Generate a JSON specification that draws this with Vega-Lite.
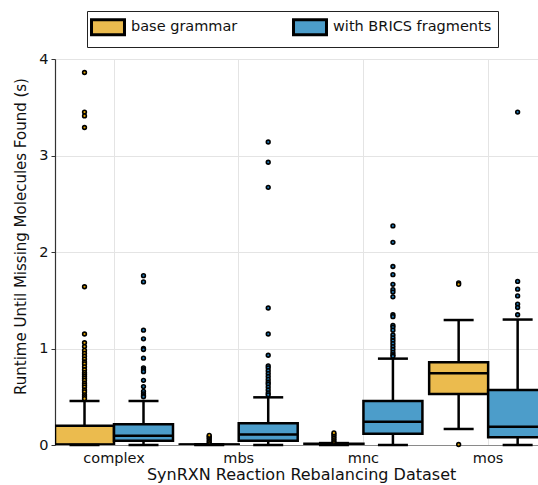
{
  "$schema": "https://vega.github.io/schema/vega-lite/v6.json",
  "width": 483,
  "height": 386,
  "autosize": {"type": "none"},
  "padding": {"left": 55, "top": 59, "right": 0, "bottom": 40},
  "background": "white",
  "config": {
    "font": "DejaVu Sans",
    "view": {"stroke": null},
    "axis": {"labelFont": "DejaVu Sans", "titleFont": "DejaVu Sans", "labelColor": "#111", "titleColor": "#111", "titleFontWeight": "normal", "gridColor": "#e4e4e4", "gridWidth": 1}
  },
  "datasets": {
    "boxes": [
      {"dataset": "complex", "series": "base grammar", "lower": 0.0, "q1": 0.0, "median": 0.004, "q3": 0.20, "upper": 0.456},
      {"dataset": "complex", "series": "with BRICS fragments", "lower": 0.0, "q1": 0.045, "median": 0.097, "q3": 0.214, "upper": 0.456},
      {"dataset": "mbs", "series": "base grammar", "lower": 0.0, "q1": 0.0, "median": 0.002, "q3": 0.004, "upper": 0.008},
      {"dataset": "mbs", "series": "with BRICS fragments", "lower": 0.0, "q1": 0.045, "median": 0.11, "q3": 0.225, "upper": 0.494},
      {"dataset": "mnc", "series": "base grammar", "lower": 0.0, "q1": 0.004, "median": 0.008, "q3": 0.012, "upper": 0.02},
      {"dataset": "mnc", "series": "with BRICS fragments", "lower": 0.0, "q1": 0.117, "median": 0.242, "q3": 0.456, "upper": 0.895},
      {"dataset": "mos", "series": "base grammar", "lower": 0.166, "q1": 0.528, "median": 0.743, "q3": 0.857, "upper": 1.295},
      {"dataset": "mos", "series": "with BRICS fragments", "lower": 0.0, "q1": 0.08, "median": 0.19, "q3": 0.57, "upper": 1.30}
    ],
    "outliers": [
      {"dataset": "complex", "series": "base grammar", "value": 3.86},
      {"dataset": "complex", "series": "base grammar", "value": 3.45},
      {"dataset": "complex", "series": "base grammar", "value": 3.41},
      {"dataset": "complex", "series": "base grammar", "value": 3.29},
      {"dataset": "complex", "series": "base grammar", "value": 1.64},
      {"dataset": "complex", "series": "base grammar", "value": 1.15},
      {"dataset": "complex", "series": "base grammar", "value": 1.06},
      {"dataset": "complex", "series": "base grammar", "value": 1.02},
      {"dataset": "complex", "series": "base grammar", "value": 0.98},
      {"dataset": "complex", "series": "base grammar", "value": 0.95},
      {"dataset": "complex", "series": "base grammar", "value": 0.92},
      {"dataset": "complex", "series": "base grammar", "value": 0.89},
      {"dataset": "complex", "series": "base grammar", "value": 0.86},
      {"dataset": "complex", "series": "base grammar", "value": 0.84},
      {"dataset": "complex", "series": "base grammar", "value": 0.81},
      {"dataset": "complex", "series": "base grammar", "value": 0.78},
      {"dataset": "complex", "series": "base grammar", "value": 0.75},
      {"dataset": "complex", "series": "base grammar", "value": 0.73},
      {"dataset": "complex", "series": "base grammar", "value": 0.71},
      {"dataset": "complex", "series": "base grammar", "value": 0.69},
      {"dataset": "complex", "series": "base grammar", "value": 0.67},
      {"dataset": "complex", "series": "base grammar", "value": 0.64},
      {"dataset": "complex", "series": "base grammar", "value": 0.62},
      {"dataset": "complex", "series": "base grammar", "value": 0.60},
      {"dataset": "complex", "series": "base grammar", "value": 0.57},
      {"dataset": "complex", "series": "base grammar", "value": 0.55},
      {"dataset": "complex", "series": "base grammar", "value": 0.52},
      {"dataset": "complex", "series": "base grammar", "value": 0.50},
      {"dataset": "complex", "series": "base grammar", "value": 0.48},
      {"dataset": "complex", "series": "with BRICS fragments", "value": 1.755},
      {"dataset": "complex", "series": "with BRICS fragments", "value": 1.69},
      {"dataset": "complex", "series": "with BRICS fragments", "value": 1.19},
      {"dataset": "complex", "series": "with BRICS fragments", "value": 1.10},
      {"dataset": "complex", "series": "with BRICS fragments", "value": 1.00},
      {"dataset": "complex", "series": "with BRICS fragments", "value": 0.99},
      {"dataset": "complex", "series": "with BRICS fragments", "value": 0.90},
      {"dataset": "complex", "series": "with BRICS fragments", "value": 0.80},
      {"dataset": "complex", "series": "with BRICS fragments", "value": 0.78},
      {"dataset": "complex", "series": "with BRICS fragments", "value": 0.76},
      {"dataset": "complex", "series": "with BRICS fragments", "value": 0.67},
      {"dataset": "complex", "series": "with BRICS fragments", "value": 0.605},
      {"dataset": "complex", "series": "with BRICS fragments", "value": 0.555},
      {"dataset": "complex", "series": "with BRICS fragments", "value": 0.53},
      {"dataset": "complex", "series": "with BRICS fragments", "value": 0.51},
      {"dataset": "complex", "series": "with BRICS fragments", "value": 0.50},
      {"dataset": "mbs", "series": "base grammar", "value": 0.025},
      {"dataset": "mbs", "series": "base grammar", "value": 0.04},
      {"dataset": "mbs", "series": "base grammar", "value": 0.06},
      {"dataset": "mbs", "series": "base grammar", "value": 0.075},
      {"dataset": "mbs", "series": "base grammar", "value": 0.09},
      {"dataset": "mbs", "series": "base grammar", "value": 0.10},
      {"dataset": "mbs", "series": "with BRICS fragments", "value": 3.14},
      {"dataset": "mbs", "series": "with BRICS fragments", "value": 2.93},
      {"dataset": "mbs", "series": "with BRICS fragments", "value": 2.67},
      {"dataset": "mbs", "series": "with BRICS fragments", "value": 1.42},
      {"dataset": "mbs", "series": "with BRICS fragments", "value": 1.15},
      {"dataset": "mbs", "series": "with BRICS fragments", "value": 0.93},
      {"dataset": "mbs", "series": "with BRICS fragments", "value": 0.82},
      {"dataset": "mbs", "series": "with BRICS fragments", "value": 0.80},
      {"dataset": "mbs", "series": "with BRICS fragments", "value": 0.77},
      {"dataset": "mbs", "series": "with BRICS fragments", "value": 0.74},
      {"dataset": "mbs", "series": "with BRICS fragments", "value": 0.71},
      {"dataset": "mbs", "series": "with BRICS fragments", "value": 0.68},
      {"dataset": "mbs", "series": "with BRICS fragments", "value": 0.65},
      {"dataset": "mbs", "series": "with BRICS fragments", "value": 0.63},
      {"dataset": "mbs", "series": "with BRICS fragments", "value": 0.60},
      {"dataset": "mbs", "series": "with BRICS fragments", "value": 0.57},
      {"dataset": "mbs", "series": "with BRICS fragments", "value": 0.54},
      {"dataset": "mbs", "series": "with BRICS fragments", "value": 0.52},
      {"dataset": "mnc", "series": "base grammar", "value": 0.03},
      {"dataset": "mnc", "series": "base grammar", "value": 0.05},
      {"dataset": "mnc", "series": "base grammar", "value": 0.07},
      {"dataset": "mnc", "series": "base grammar", "value": 0.09},
      {"dataset": "mnc", "series": "base grammar", "value": 0.11},
      {"dataset": "mnc", "series": "base grammar", "value": 0.125},
      {"dataset": "mnc", "series": "with BRICS fragments", "value": 2.27},
      {"dataset": "mnc", "series": "with BRICS fragments", "value": 2.10},
      {"dataset": "mnc", "series": "with BRICS fragments", "value": 1.85},
      {"dataset": "mnc", "series": "with BRICS fragments", "value": 1.765},
      {"dataset": "mnc", "series": "with BRICS fragments", "value": 1.665},
      {"dataset": "mnc", "series": "with BRICS fragments", "value": 1.61},
      {"dataset": "mnc", "series": "with BRICS fragments", "value": 1.585},
      {"dataset": "mnc", "series": "with BRICS fragments", "value": 1.535},
      {"dataset": "mnc", "series": "with BRICS fragments", "value": 1.35},
      {"dataset": "mnc", "series": "with BRICS fragments", "value": 1.33},
      {"dataset": "mnc", "series": "with BRICS fragments", "value": 1.24},
      {"dataset": "mnc", "series": "with BRICS fragments", "value": 1.22},
      {"dataset": "mnc", "series": "with BRICS fragments", "value": 1.19},
      {"dataset": "mnc", "series": "with BRICS fragments", "value": 1.14},
      {"dataset": "mnc", "series": "with BRICS fragments", "value": 1.11},
      {"dataset": "mnc", "series": "with BRICS fragments", "value": 1.08},
      {"dataset": "mnc", "series": "with BRICS fragments", "value": 1.05},
      {"dataset": "mnc", "series": "with BRICS fragments", "value": 1.02},
      {"dataset": "mnc", "series": "with BRICS fragments", "value": 0.99},
      {"dataset": "mnc", "series": "with BRICS fragments", "value": 0.96},
      {"dataset": "mnc", "series": "with BRICS fragments", "value": 0.935},
      {"dataset": "mnc", "series": "with BRICS fragments", "value": 0.92},
      {"dataset": "mos", "series": "base grammar", "value": 1.68},
      {"dataset": "mos", "series": "base grammar", "value": 1.665},
      {"dataset": "mos", "series": "base grammar", "value": 0.005},
      {"dataset": "mos", "series": "with BRICS fragments", "value": 3.45},
      {"dataset": "mos", "series": "with BRICS fragments", "value": 1.695},
      {"dataset": "mos", "series": "with BRICS fragments", "value": 1.615},
      {"dataset": "mos", "series": "with BRICS fragments", "value": 1.545},
      {"dataset": "mos", "series": "with BRICS fragments", "value": 1.46},
      {"dataset": "mos", "series": "with BRICS fragments", "value": 1.425},
      {"dataset": "mos", "series": "with BRICS fragments", "value": 1.35}
    ]
  },
  "encoding": {
    "x": {
      "field": "dataset", "type": "nominal",
      "scale": {"domain": ["complex", "mbs", "mnc", "mos"], "range": [-3.35, 495.5], "paddingInner": 0.054, "paddingOuter": 0.027},
      "axis": {"title": "SynRXN Reaction Rebalancing Dataset", "labelAngle": 0, "labelFontSize": 14.5, "titleFontSize": 16, "ticks": false, "labelPadding": 6, "titlePadding": 2, "domainColor": "#8a8a8a", "domainWidth": 1.2, "bandPosition": 0.5, "grid": true}
    },
    "xOffset": {"field": "series", "type": "nominal", "scale": {"domain": ["base grammar", "with BRICS fragments"], "paddingInner": 0, "paddingOuter": 0}},
    "y": {"type": "quantitative"}
  },
  "layer": [
    {
      "data": {"name": "boxes"},
      "mark": {"type": "rule", "color": "black", "strokeWidth": 2.5},
      "encoding": {
        "y": {"field": "lower", "type": "quantitative", "scale": {"domain": [0, 4], "nice": false}, "axis": {"title": "Runtime Until Missing Molecules Found (s)", "values": [0, 1, 2, 3, 4], "format": "d", "labelFontSize": 14.5, "titleFontSize": 15, "tickSize": 4, "labelPadding": 3, "tickColor": "#333", "domainColor": "#333", "domainWidth": 1.2, "titleX": -35, "titleY": 177, "titleBaseline": "middle", "titleAngle": -90, "titleAlign": "center", "grid": true}},
        "y2": {"field": "upper"}
      }
    },
    {
      "data": {"name": "boxes"},
      "mark": {"type": "bar", "stroke": "black", "strokeWidth": 2.5, "clip": true},
      "encoding": {
        "y": {"field": "q1", "type": "quantitative"},
        "y2": {"field": "q3"},
        "fill": {"field": "series", "type": "nominal", "scale": {"domain": ["base grammar", "with BRICS fragments"], "range": ["#EBBB4E", "#4C9DCA"]},
          "legend": {"title": null, "orient": "none", "legendX": 32, "legendY": -48, "direction": "horizontal", "columns": 2, "columnPadding": 49, "symbolType": "M-2,-0.9H2V0.9H-2Z", "symbolSize": 272, "symbolOffset": 5, "symbolStrokeColor": "black", "symbolStrokeWidth": 3, "symbolOpacity": 1, "labelFontSize": 14.5, "labelFont": "DejaVu Sans", "labelColor": "#111", "labelOffset": 13, "padding": 6, "strokeColor": "#222", "fillColor": "white", "labelLimit": 300}}
      }
    },
    {
      "data": {"name": "boxes"},
      "mark": {"type": "tick", "orient": "horizontal", "color": "black", "thickness": 2.5, "size": 59, "opacity": 1, "clip": true},
      "encoding": {"y": {"field": "median", "type": "quantitative"}}
    },
    {
      "data": {"name": "boxes"},
      "mark": {"type": "tick", "orient": "horizontal", "color": "black", "thickness": 2.5, "size": 30, "opacity": 1},
      "encoding": {"y": {"field": "upper", "type": "quantitative"}}
    },
    {
      "data": {"name": "boxes"},
      "mark": {"type": "tick", "orient": "horizontal", "color": "black", "thickness": 2.5, "size": 30, "opacity": 1},
      "encoding": {"y": {"field": "lower", "type": "quantitative"}}
    },
    {
      "data": {"name": "outliers"},
      "mark": {"type": "point", "shape": "circle", "filled": true, "size": 14, "stroke": "black", "strokeWidth": 1.6, "opacity": 1},
      "encoding": {
        "y": {"field": "value", "type": "quantitative"},
        "fill": {"field": "series", "type": "nominal", "scale": {"domain": ["base grammar", "with BRICS fragments"], "range": ["#E5A500", "#1F78B4"]}, "legend": null}
      }
    }
  ],
  "resolve": {"scale": {"fill": "independent"}}
}
